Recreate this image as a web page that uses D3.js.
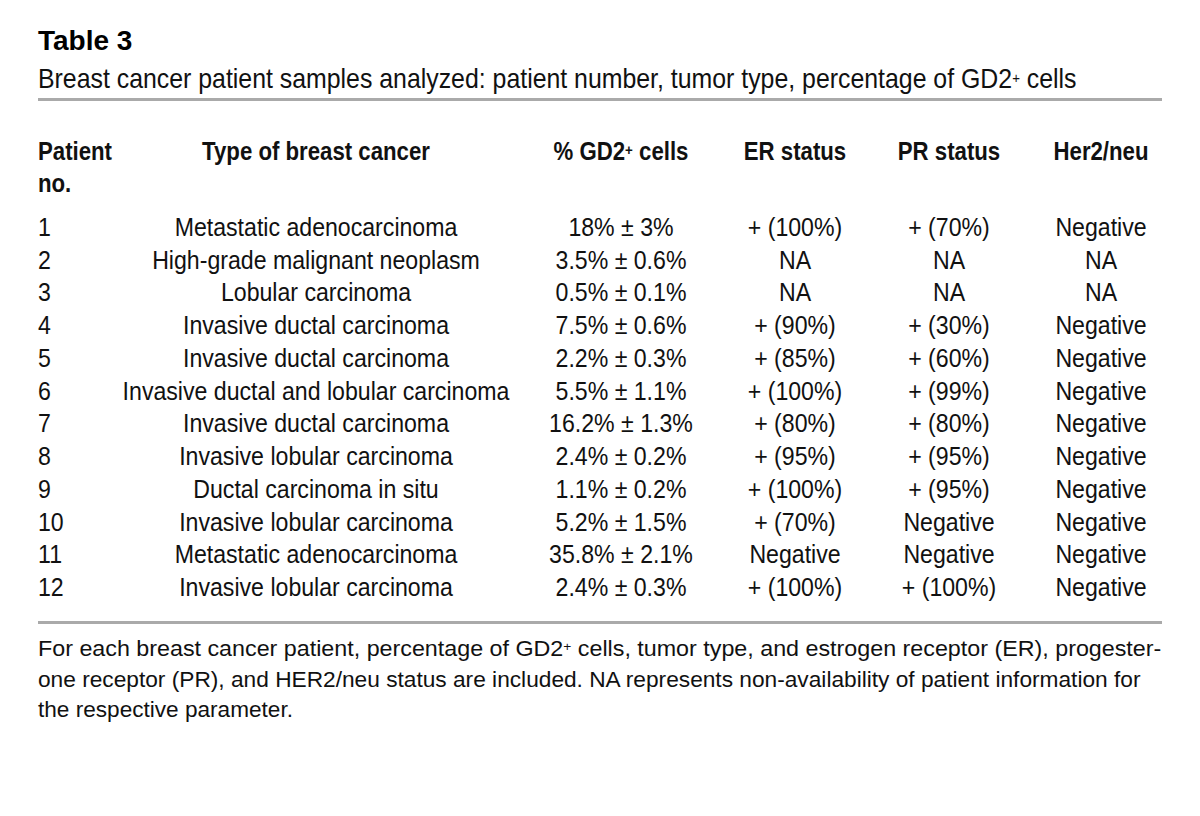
<!DOCTYPE html>
<html><head><meta charset="utf-8">
<script src="https://cdn.jsdelivr.net/npm/d3@7"></script>
<style>
body{margin:0;background:#fff;}
svg{display:block;}
</style></head>
<body>
<svg id="c" width="1200" height="816"></svg>
<script>
const title = "Table 3";
const subtitle = ["Breast cancer patient samples analyzed: patient number, tumor type, percentage of GD2", "+", " cells"];
const headers = ["Patient", "Type of breast cancer", "% GD2+ cells", "ER status", "PR status", "Her2/neu"];
const patients = ["1","2","3","4","5","6","7","8","9","10","11","12"];
const types = ["Metastatic adenocarcinoma","High-grade malignant neoplasm","Lobular carcinoma","Invasive ductal carcinoma","Invasive ductal carcinoma","Invasive ductal and lobular carcinoma","Invasive ductal carcinoma","Invasive lobular carcinoma","Ductal carcinoma in situ","Invasive lobular carcinoma","Metastatic adenocarcinoma","Invasive lobular carcinoma"];
const gd2 = ["18% ± 3%","3.5% ± 0.6%","0.5% ± 0.1%","7.5% ± 0.6%","2.2% ± 0.3%","5.5% ± 1.1%","16.2% ± 1.3%","2.4% ± 0.2%","1.1% ± 0.2%","5.2% ± 1.5%","35.8% ± 2.1%","2.4% ± 0.3%"];
const er = ["+ (100%)","NA","NA","+ (90%)","+ (85%)","+ (100%)","+ (80%)","+ (95%)","+ (100%)","+ (70%)","Negative","+ (100%)"];
const pr = ["+ (70%)","NA","NA","+ (30%)","+ (60%)","+ (99%)","+ (80%)","+ (95%)","+ (95%)","Negative","Negative","+ (100%)"];
const her2 = ["Negative","NA","NA","Negative","Negative","Negative","Negative","Negative","Negative","Negative","Negative","Negative"];
const footnote = [
  ["For each breast cancer patient, percentage of GD2", "+", " cells, tumor type, and estrogen receptor (ER), progester-"],
  ["one receptor (PR), and HER2/neu status are included. NA represents non-availability of patient information for"],
  ["the respective parameter."]
];

const svg = d3.select("#c");
const sans = "'Liberation Sans',Arial,Helvetica,sans-serif";
const L = 38, R = 1162;

function supText(sel, parts, supSize){
  parts.forEach(p => {
    if (p === "+") sel.append("tspan").attr("font-size", supSize).attr("baseline-shift", "38%").text(p);
    else sel.append("tspan").text(p);
  });
}

// text placed in a group so it can be horizontally condensed
function placeText(parent, x, y, anchor, k){
  const g = parent.append("g").attr("transform", `translate(${x},${y}) scale(${k},1)`);
  return g.append("text").attr("x", 0).attr("y", 0).attr("text-anchor", anchor);
}
function measure(parent, str){
  const t = parent.append("text").text(str);
  const w = t.node().getComputedTextLength();
  t.remove();
  return w;
}
function fit(t, x, y, target){
  const w = t.node().getComputedTextLength();
  t.node().parentNode.setAttribute("transform", `translate(${x},${y}) scale(${target / w},1)`);
}

svg.append("text").attr("x", L).attr("y", 50)
  .attr("font-family", sans).attr("font-weight", "bold")
  .attr("font-size", 28).attr("fill", "#000").text(title);

// subtitle fitted to its width
const sg = svg.append("g").attr("font-family", sans).attr("font-size", 28).attr("fill", "#111");
const st = placeText(sg, L, 88, "start", 1);
supText(st, subtitle, 15);
fit(st, L, 88, 1039);

svg.append("rect").attr("x", L).attr("y", 98).attr("width", R - L).attr("height", 3).attr("fill", "#aaa");

// columns
const colKeys = ["patient","type","gd2","er","pr","her2"];
const colX = d3.scaleOrdinal().domain(colKeys).range([L, 316, 621, 795, 949, 1101]);
const colAnchor = d3.scaleOrdinal().domain(colKeys).range(["start","middle","middle","middle","middle","middle"]);

const hdr = svg.append("g").attr("font-family", sans).attr("font-weight", "bold").attr("font-size", 25).attr("fill", "#111");
const kH = 228 / measure(hdr, "Type of breast cancer");
headers.forEach((h, i) => {
  const k = colKeys[i];
  const t = placeText(hdr, colX(k), 160, colAnchor(k), kH);
  if (h.includes("GD2+")) supText(t, ["% GD2", "+", " cells"], 15);
  else t.text(h);
});
placeText(hdr, L, 192, "start", kH).text("no.");

const rows = patients.map((p, i) => ({patient: p, type: types[i], gd2: gd2[i], er: er[i], pr: pr[i], her2: her2[i]}));
const y = d3.scalePoint().domain(patients).range([236, 596]);

const body = svg.append("g").attr("font-family", sans).attr("font-size", 26).attr("fill", "#111");
const kB = 387 / measure(body, "Invasive ductal and lobular carcinoma");
rows.forEach(r => {
  colKeys.forEach(k => {
    placeText(body, colX(k), y(r.patient), colAnchor(k), kB).text(r[k]);
  });
});

svg.append("rect").attr("x", L).attr("y", 621).attr("width", R - L).attr("height", 3).attr("fill", "#aaa");

const fn = svg.append("g").attr("font-family", sans).attr("font-size", 22).attr("fill", "#111");
const fnWidths = [R - L, 1141 - L, 255];
footnote.forEach((parts, i) => {
  const yy = 656 + i * 30.5;
  const t = placeText(fn, L, yy, "start", 1);
  supText(t, parts, 13);
  fit(t, L, yy, fnWidths[i]);
});
</script>
</body></html>
